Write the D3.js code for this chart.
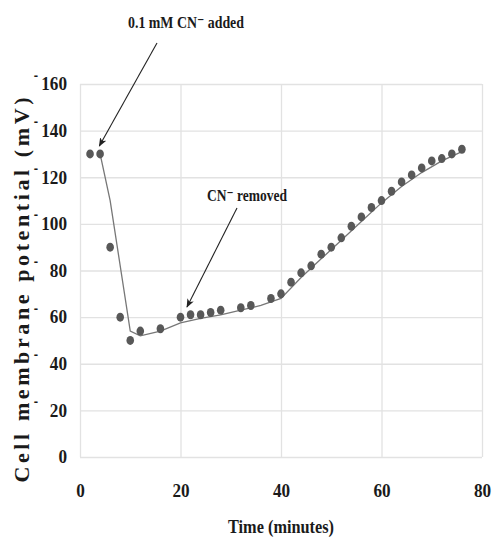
<!DOCTYPE html>
<html>
<head>
<meta charset="utf-8">
<script src="https://cdn.jsdelivr.net/npm/d3@7"></script>
<style>
  body { margin: 0; background: #fff; }
  svg { display: block; font-family: "Liberation Serif", "DejaVu Serif", serif; }
</style>
</head>
<body>
<svg id="chart" width="492" height="546"></svg>
<script>
// measured points
const pointTimes = [2, 4, 6, 8, 10, 12, 16, 20, 22, 24, 26, 28, 32, 34, 38, 40, 42, 44, 46, 48, 50, 52, 54, 56, 58, 60, 62, 64, 66, 68, 70, 72, 74, 76];
const pointValues = [130, 130, 90, 60, 50, 54, 55, 60, 61, 61, 62, 63, 64, 65, 68, 70, 75, 79, 82, 87, 90, 94, 99, 103, 107, 110, 114, 118, 121, 124, 127, 128, 130, 132];
// trend line
const fitTimes = [4, 6, 10, 12, 16, 20, 24, 28, 32, 36, 40, 44, 48, 52, 56, 60, 64, 68, 72, 76];
const fitValues = [130, 110, 54, 52, 54, 57.5, 59.5, 61, 63, 65, 68, 77, 85, 93, 101, 109, 116, 122, 127, 131];
const xTicks = [0, 20, 40, 60, 80];
const yTicks = [0, 20, 40, 60, 80, 100, 120, 140, 160];

const margin = {top: 84, right: 10, bottom: 89, left: 80};
const svg = d3.select('#chart');
const width = +svg.attr('width') - margin.left - margin.right;
const height = +svg.attr('height') - margin.top - margin.bottom;

const x = d3.scaleLinear().domain([0, 80]).range([0, width]);
const y = d3.scaleLinear().domain([0, 160]).range([height, 0]);

const g = svg.append('g')
  .attr('transform', 'translate(' + margin.left + ',' + margin.top + ')');

// grid + tick labels
const xAxis = g.append('g')
  .attr('class', 'axis x-axis')
  .attr('transform', 'translate(0,' + height + ')')
  .call(d3.axisBottom(x).tickValues(xTicks).tickSize(-height).tickPadding(27).tickFormat(d3.format('d')));
const yAxis = g.append('g')
  .attr('class', 'axis y-axis')
  .call(d3.axisLeft(y).tickValues(yTicks).tickSize(-width).tickPadding(13).tickFormat(d3.format('d')));

svg.selectAll('.axis .domain').remove();
svg.selectAll('.axis line').attr('stroke', '#e2e2e2').attr('stroke-width', 1.3);
svg.selectAll('.axis text')
  .attr('fill', '#1a1a1a')
  .attr('font-family', '"Liberation Serif", serif')
  .attr('font-size', 18)
  .attr('font-weight', 'bold')
  .attr('textLength', d => String(d).length * 8.6)
  .attr('lengthAdjust', 'spacingAndGlyphs');

// little dashes in front of the y labels
yAxis.selectAll('.tick').filter(d => d > 0)
  .append('text')
  .attr('x', -margin.left + 36)
  .attr('y', -5)
  .attr('fill', '#1a1a1a')
  .attr('font-size', 13)
  .attr('font-weight', 'bold')
  .attr('text-anchor', 'middle')
  .text('-');

// trend line
const line = d3.line()
  .x(d => x(d[0]))
  .y(d => y(d[1]));
g.append('path')
  .datum(d3.zip(fitTimes, fitValues))
  .attr('fill', 'none')
  .attr('stroke', '#777')
  .attr('stroke-width', 1.3)
  .attr('d', line);

// points
g.append('g')
  .attr('class', 'points')
  .selectAll('ellipse')
  .data(d3.zip(pointTimes, pointValues))
  .enter()
  .append('ellipse')
  .attr('cx', d => x(d[0]))
  .attr('cy', d => y(d[1]))
  .attr('rx', 3.8)
  .attr('ry', 4.5)
  .attr('fill', '#585858');

// annotations
const defs = svg.append('defs');
defs.append('marker')
  .attr('id', 'arrow')
  .attr('viewBox', '0 0 10 10')
  .attr('refX', 9)
  .attr('refY', 5)
  .attr('markerWidth', 8)
  .attr('markerHeight', 8)
  .attr('orient', 'auto')
  .append('path')
  .attr('d', 'M0,1 L10,5 L0,9 L2.5,5 Z')
  .attr('fill', '#222');

const ann = svg.append('g').attr('class', 'annotations');

ann.append('text')
  .attr('x', 128)
  .attr('y', 28)
  .attr('font-size', 17)
  .attr('font-weight', 'bold')
  .attr('fill', '#1a1a1a')
  .attr('textLength', 116)
  .attr('lengthAdjust', 'spacingAndGlyphs')
  .text('0.1 mM CN\u207B added');

ann.append('line')
  .attr('x1', 157).attr('y1', 43)
  .attr('x2', x(3.85) + margin.left).attr('y2', 146)
  .attr('stroke', '#222').attr('stroke-width', 1.1)
  .attr('marker-end', 'url(#arrow)');

ann.append('text')
  .attr('x', 207)
  .attr('y', 201)
  .attr('font-size', 17)
  .attr('font-weight', 'bold')
  .attr('fill', '#1a1a1a')
  .attr('textLength', 80)
  .attr('lengthAdjust', 'spacingAndGlyphs')
  .text('CN\u207B removed');

ann.append('line')
  .attr('x1', 237).attr('y1', 208)
  .attr('x2', 187).attr('y2', 307)
  .attr('stroke', '#222').attr('stroke-width', 1.1)
  .attr('marker-end', 'url(#arrow)');

// axis titles
svg.append('text')
  .attr('x', 281)
  .attr('y', 533)
  .attr('text-anchor', 'middle')
  .attr('font-size', 19)
  .attr('font-weight', 'bold')
  .attr('fill', '#1a1a1a')
  .attr('textLength', 106)
  .attr('lengthAdjust', 'spacingAndGlyphs')
  .text('Time (minutes)');

svg.append('text')
  .attr('transform', 'translate(29,' + 290 + ') rotate(-90)')
  .attr('text-anchor', 'middle')
  .attr('font-size', 22)
  .attr('font-weight', 'bold')
  .attr('fill', '#1a1a1a')
  .attr('textLength', 385)
  .attr('lengthAdjust', 'spacing')
  .text('Cell membrane potential (mV)');
</script>
</body>
</html>
